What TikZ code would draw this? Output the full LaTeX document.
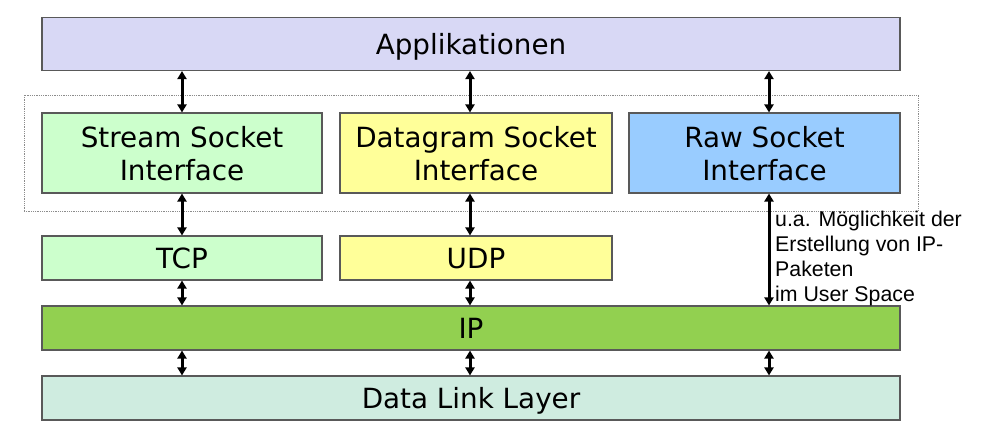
\documentclass[tikz,border=0pt]{standalone}
\usepackage{fontspec}
\setmainfont{DejaVu Sans}
\newfontfamily\notefont{Liberation Sans}
\usetikzlibrary{arrows.meta,positioning,fit}
\definecolor{appLila}{HTML}{D8D8F5}
\definecolor{strGreen}{HTML}{CCFFCC}
\definecolor{dgYellow}{HTML}{FFFF99}
\definecolor{rawBlue}{HTML}{99CCFF}
\definecolor{ipGreen}{HTML}{92D050}
\definecolor{dllMint}{HTML}{CFECE0}
\tikzset{
  layer/.style={draw=black!65, line width=1.1pt, inner sep=0pt, align=center,
                text depth=0pt, font=\fontsize{27.8}{33}\selectfont},
  sockbox/.style={layer, minimum width=280pt, minimum height=80pt},
  protobox/.style={layer, minimum width=280pt, minimum height=44pt},
  widebox/.style={layer, minimum width=858pt, minimum height=44pt},
  dblarrow/.style={{Triangle[length=8pt,width=9pt]}-{Triangle[length=8pt,width=9pt]},
                   line width=3pt, draw=black},
  groupframe/.style={draw=black!45, densely dotted, line width=0.8pt, inner sep=17.5pt},
}
\begin{document}
\begin{tikzpicture}[x=1pt, y=-1pt]
  \useasboundingbox (0,0) rectangle (985,441);

  % -- top: applications --
  \node[widebox, minimum height=53pt, fill=appLila] (app) at (471,44) {Applikationen};

  % -- socket interfaces --
  \node[sockbox, fill=strGreen] (stream) at (182,153) {Stream Socket\\Interface};
  \node[sockbox, minimum width=272pt, fill=dgYellow] (dgram) at (476,153) {Datagram Socket\\Interface};
  \node[sockbox, minimum width=271pt, fill=rawBlue] (raw) at (764.5,153) {Raw Socket\\Interface};
  \node[groupframe, fit=(stream) (dgram) (raw)] (socklayer) {};

  % -- transport --
  \node[protobox, fill=strGreen] (tcp) at (182,258) {TCP};
  \node[protobox, minimum width=272pt, fill=dgYellow] (udp) at (476,258) {UDP};

  % -- network and link --
  \node[widebox, fill=ipGreen] (ip) at (471,328) {IP};
  \node[widebox, fill=dllMint] (dll) at (471,398) {Data Link Layer};

  % -- connectors --
  \draw[dblarrow] (app.south -| stream) -- (stream.north);
  \draw[dblarrow] ([xshift=-6pt]app.south -| dgram) -- ([xshift=-6pt]dgram.north);
  \draw[dblarrow] ([xshift=4.5pt]app.south -| raw) -- ([xshift=4.5pt]raw.north);
  \draw[dblarrow] (stream) -- (tcp);
  \draw[dblarrow] ([xshift=-6pt]dgram.south) -- ([xshift=-6pt]udp.north);
  \draw[dblarrow] (tcp) -- (ip.north -| tcp);
  \draw[dblarrow] ([xshift=-6pt]udp.south) -- ([xshift=-6pt]ip.north -| udp);
  \draw[dblarrow] ([xshift=4.5pt]raw.south) -- ([xshift=4.5pt]ip.north -| raw);
  \draw[dblarrow] (ip.south -| tcp) -- (dll.north -| tcp);
  \draw[dblarrow] ([xshift=-6pt]ip.south -| udp) -- ([xshift=-6pt]dll.north -| udp);
  \draw[dblarrow] ([xshift=4.5pt]ip.south -| raw) -- ([xshift=4.5pt]dll.north -| raw);

  % -- note beside the raw socket path --
  \node[anchor=north west, inner sep=0pt, align=left,
        font=\notefont\fontsize{21.3}{25}\selectfont] (rawnote) at (775,211)
    {u.a. Möglichkeit der\\Erstellung von IP-\\Paketen\\im User Space};
\end{tikzpicture}
\end{document}
